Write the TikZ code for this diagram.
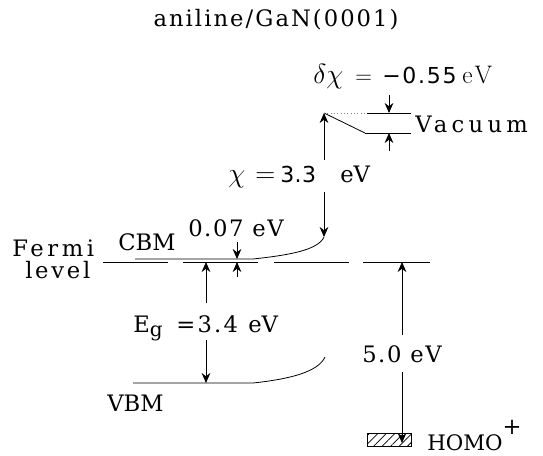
\documentclass[tikz,border=0pt]{standalone}
\usepackage{fontspec}
\newfontfamily\lib{DejaVu Serif}
\newfontfamily\dvs{DejaVu Sans}
\usetikzlibrary{arrows.meta,patterns.meta}
\begin{document}
\begin{tikzpicture}[x=0.75pt,y=-0.75pt,
  lvl/.style={line width=0.6pt},
  arr/.style={line width=0.6pt,-{Stealth[length=7.5pt,width=6.5pt]}},
  lbl/.style={inner sep=0pt,anchor=base west,font=\lib\fontsize{17}{19}\selectfont},
  mth/.style={inner sep=0pt,anchor=base west,font=\fontsize{19}{21}\selectfont},
  sdig/.style={inner sep=0pt,anchor=base west,font=\dvs\fontsize{16.5}{18}\selectfont},
]
\useasboundingbox (0,0) rectangle (543,455);

% ---- text ----
\node[lbl,anchor=base] (title) at (276,26) {\addfontfeature{LetterSpace=9}aniline/GaN(0001)};
% delta chi label
\node[mth,font=\fontsize{20}{22}\selectfont] (dchi) at (313,83) {$\delta\chi$};
\node[mth] (dchiEq) at (355,83) {$=$};
\node[sdig] (dchiV) at (382,83) {\addfontfeature{LetterSpace=8}−0.55};
\node[mth] (dchiU) at (462,83) {e\hspace{1.5pt}V};
\node[lbl] (vac) at (415,132) {\addfontfeature{LetterSpace=19}Vacuum};
% chi label
\node[mth,font=\fontsize{21}{23}\selectfont] (chil) at (228,182) {$\chi$};
\node[mth,font=\fontsize{20}{22}\selectfont] (chiEq) at (255,182) {$=$};
\node[sdig] (chiV) at (280,182) {\addfontfeature{LetterSpace=2}3.3};
\node[lbl] (chiU) at (340,182) {eV};
% Fermi level
\node[lbl] (fermi) at (12,256) {\addfontfeature{LetterSpace=16}Fermi};
\node[lbl] (level) at (25,278) {\addfontfeature{LetterSpace=12}level};
\node[lbl] (cbm) at (118,250) {CBM};
\node[lbl] (d007) at (188,236) {\addfontfeature{LetterSpace=7}0.07 eV};
% Eg label
\node[lbl] (egE) at (133,332) {E\raisebox{-3pt}{\fontsize{15}{15}\selectfont g}};
\node[lbl] (egV) at (176,332) {\addfontfeature{LetterSpace=10}=3.4};
\node[lbl] (egU) at (248,332) {eV};
\node[lbl] (vbm) at (107,411) {VBM};
\node[lbl] (five) at (362,362) {\addfontfeature{LetterSpace=7}5.0 eV};
\node[lbl,font=\lib\fontsize{16}{18}\selectfont] (homo) at (427,450) {HOMO};
\node[lbl,anchor=center] (plus) at (512,427) {+};

% ---- coordinates ----
\coordinate (chiT) at (324,113);
\coordinate (vt1) at (367,113); \coordinate (vt2) at (411,113);
\coordinate (vb1) at (365,133); \coordinate (vb2) at (411,133);
\coordinate (f1a) at (103,262); \coordinate (f1b) at (168,262);
\coordinate (f2a) at (183,262); \coordinate (f2b) at (258,262);
\coordinate (f3a) at (274,262); \coordinate (f3b) at (349,262);
\coordinate (f4a) at (363,262); \coordinate (f4b) at (430,262);
\coordinate (cbmA) at (135,259); \coordinate (cbmB) at (253,259); \coordinate (cbmE) at (324,237);
\coordinate (vbmA) at (133,383); \coordinate (vbmB) at (253,383); \coordinate (vbmE) at (325,357);
\coordinate (fermiEg) at (206,262);
\coordinate (fermi007) at (237,262);
\coordinate (cbm007) at (237,259);
\coordinate (vbmEg) at (206,383);
\coordinate (fermi5) at (402,262);
\coordinate (homo5) at (402,443);
\coordinate (dxT) at (389,113); \coordinate (dxB) at (389,133);
% arrow tails
\coordinate (chiUp) at (324,160); \coordinate (chiDn) at (324,192);
\coordinate (dxUp) at (389,95); \coordinate (dxDn) at (389,151);
\coordinate (s007a) at (237,242); \coordinate (s007b) at (237,277);
\coordinate (egUp) at (206,303); \coordinate (egDn) at (206,340);
\coordinate (fUp) at (402,335); \coordinate (fDn) at (402,372);

% ---- levels ----
\draw[lvl] (vt1) -- (vt2);
\draw[lvl] (vb1) -- (vb2);
\draw[lvl] (chiT) -- (vb1);
\draw[dotted, gray, line width=0.5pt] (chiT) -- (vt1);
\draw[lvl] (f1a) -- (f1b);
\draw[lvl] (f2a) -- (f2b);
\draw[lvl] (f3a) -- (f3b);
\draw[lvl] (f4a) -- (f4b);
\draw[lvl] (cbmA) -- (cbmB) .. controls (290,255) and (318,250) .. (cbmE);
\draw[lvl] (vbmA) -- (vbmB) .. controls (290,379) and (318,372) .. (vbmE);
\draw[lvl, pattern={Lines[angle=45,distance=4.5pt,line width=0.6pt]}] (367,433) rectangle (411,446);

% ---- arrows ----
\draw[arr] (chiUp) -- (chiT);
\draw[arr] (chiDn) -- (cbmE);
\draw[arr] (dxUp) -- (dxT);
\draw[arr] (dxDn) -- (dxB);
\draw[arr] (s007a) -- (cbm007);
\draw[arr] (s007b) -- (fermi007);
\draw[arr] (egUp) -- (fermiEg);
\draw[arr] (egDn) -- (vbmEg);
\draw[arr] (fUp) -- (fermi5);
\draw[arr] (fDn) -- (homo5);
\end{tikzpicture}
\end{document}
